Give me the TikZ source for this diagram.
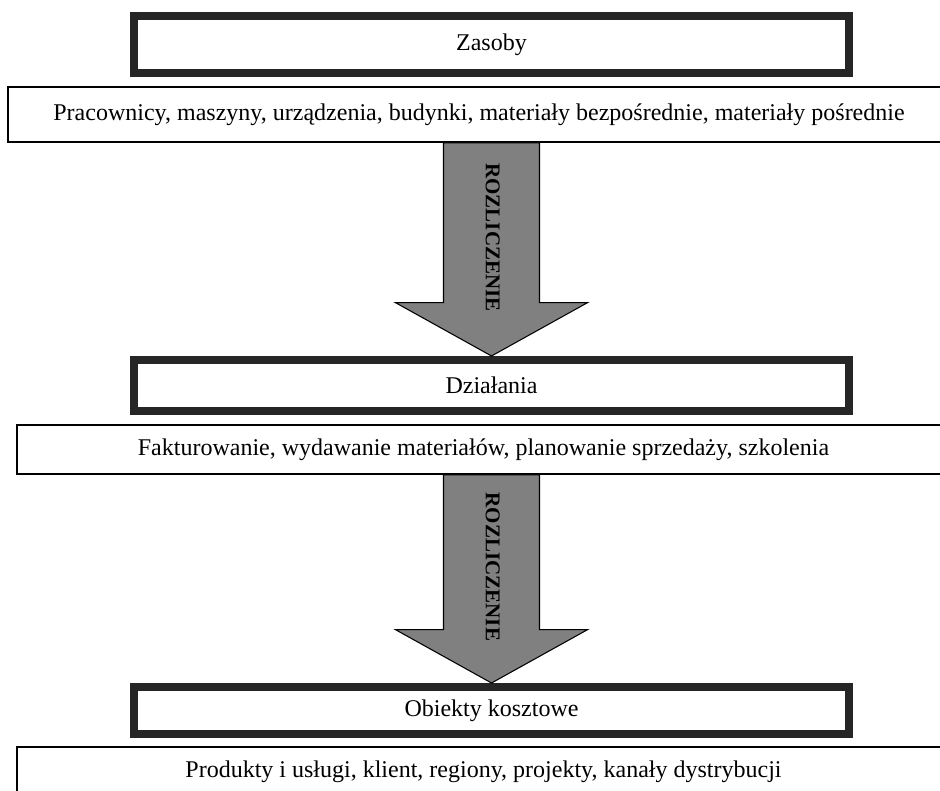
\documentclass[tikz,border=0pt]{standalone}
\usepackage{fontspec}
\setmainfont{Liberation Serif}
\usetikzlibrary{calc}
\begin{document}
\begin{tikzpicture}[x=0.75pt,y=-0.75pt,
		font=\fontsize{18}{21}\selectfont,
		thickbox/.style={draw=black!85,line width=6pt,minimum width=536.25pt,inner sep=0pt},
		listbox/.style={draw=black,line width=1.3pt,inner sep=0pt},
		flowarrow/.style={draw=black,line width=0.8pt,fill=gray}]
	\useasboundingbox (0,0) rectangle (940,791);
	\clip (0,0) rectangle (940,791);
	\node[thickbox,minimum height=42.75pt] (zasoby) at (491.5,44.5) {Zasoby};
	\node[listbox,minimum width=706.5pt,minimum height=41.25pt] (zasobyList) at (479,114.5) {Pracownicy, maszyny, urządzenia, budynki, materiały bezpośrednie, materiały pośrednie};
	\node[thickbox,minimum height=38.25pt] (dzialania) at (491.5,385.5) {Działania};
	\node[listbox,minimum width=699.75pt,minimum height=36.75pt] (dzialaniaList) at (483.5,449.5) {Fakturowanie, wydawanie materiałów, planowanie sprzedaży, szkolenia};
	\node[thickbox,minimum height=35.25pt] (obiekty) at (491.5,710.5) {Obiekty kosztowe};
	\node[listbox,minimum width=699.75pt,minimum height=36.75pt] (obiektyList) at (483.5,771.5) {Produkty i usługi, klient, regiony, projekty, kanały dystrybucji};
	\foreach \from/\to in {zasobyList/dzialania,dzialaniaList/obiekty}
		\path[flowarrow] let \p1=(\from.south), \p2=(\to.north) in
			(\x2-36pt,\y1) -- (\x2-36pt,\y2+40pt) -- (\x2-72pt,\y2+40pt) -- (\x2,\y2)
			-- (\x2+72pt,\y2+40pt) -- (\x2+36pt,\y2+40pt) -- (\x2+36pt,\y1) -- cycle
			(\x2+1pt,{0.5*\y1+0.5*\y2+9pt}) node[rotate=-90,font=\fontsize{15.75}{18}\selectfont\bfseries] (rozl-\to) {ROZLICZENIE};
\end{tikzpicture}
\end{document}
